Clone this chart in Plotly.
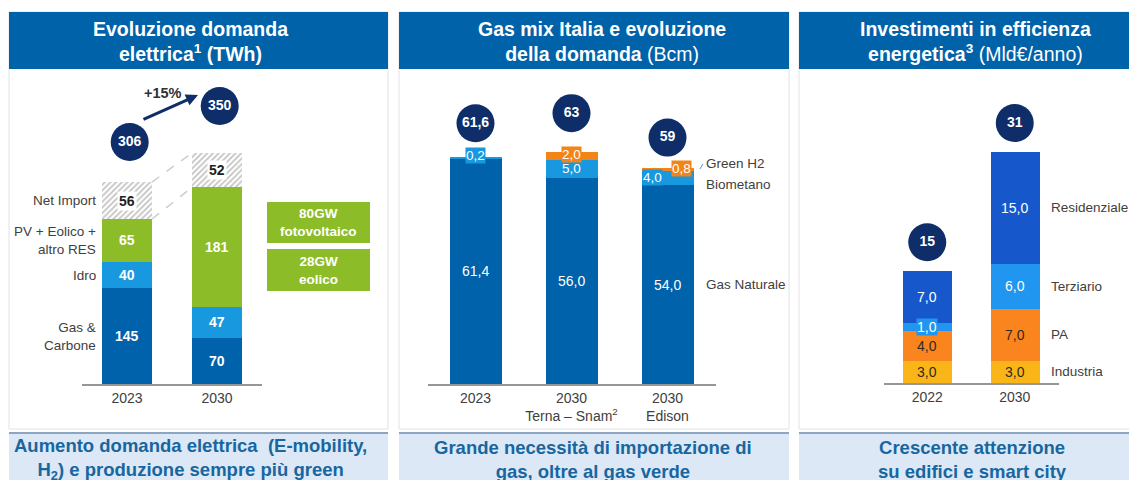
import plotly.graph_objects as go
import numpy as np

# The page body has an 8px margin; the figure is sized so it fills the window.
OX, OY = 8, 8
W, H = 1137 - OX, 480 - OY
FONT = "Liberation Sans, Arial, sans-serif"

# ---------------- DATA ----------------
# Panel 1 - Evoluzione domanda elettrica (TWh)
p1_years = ["2023", "2030"]
p1_gas_carbone = [145, 70]
p1_idro = [40, 47]
p1_res = [65, 181]
p1_net_import = [56, 52]
p1_totals = [306, 350]
p1_growth = "+15%"
p1_segment_names = ["Gas &<br>Carbone", "Idro", "PV + Eolico +<br>altro RES", "Net Import"]
p1_capacity = ["80GW<br>fotovoltaico", "28GW<br>eolico"]

# Panel 2 - Gas mix Italia (Bcm)
p2_cats = ["2023", "2030<br>Terna – Snam<sup>2</sup>", "2030<br>Edison"]
p2_gas_naturale = [61.4, 56.0, 54.0]
p2_biometano = [0.2, 5.0, 4.0]
p2_green_h2 = [0.0, 2.0, 0.8]
p2_totals = ["61,6", "63", "59"]
p2_names = ["Gas Naturale", "Biometano", "Green H2"]

# Panel 3 - Investimenti in efficienza energetica (Mld€/anno)
p3_years = ["2022", "2030"]
p3_industria = [3.0, 3.0]
p3_pa = [4.0, 7.0]
p3_terziario = [1.0, 6.0]
p3_residenziale = [7.0, 15.0]
p3_totals = [15, 31]
p3_names = ["Industria", "PA", "Terziario", "Residenziale"]

headers = [
    "<b>Evoluzione domanda<br>elettrica<sup>1</sup> (TWh)</b>",
    "<b>Gas mix Italia e evoluzione<br>della domanda</b> (Bcm)",
    "<b>Investimenti in efficienza<br>energetica<sup>3</sup></b> (Mld€/anno)",
]
footers = [
    "<b>Aumento domanda elettrica  (E-mobility,<br>H<sub>2</sub>) e produzione sempre più green</b>",
    "<b>Grande necessità di importazione di<br>gas, oltre al gas verde</b>",
    "<b>Crescente attenzione<br>su edifici e smart city</b>",
]

# ---------------- STYLE ----------------
DARK_BLUE = "rgb(0,98,170)"
LIGHT_BLUE = "rgb(24,152,222)"
GREEN = "rgb(140,188,40)"
NAVY = "rgb(14,45,105)"
ORANGE = "rgb(242,132,24)"
ROYAL = "rgb(22,88,204)"
SKY = "rgb(32,150,240)"
PA_ORANGE = "rgb(250,132,30)"
AMBER = "rgb(250,182,24)"
HEADER = "rgb(0,98,168)"
FOOT_BG = "rgb(220,232,246)"
FOOT_TXT = "rgb(24,102,160)"
GREY_TXT = "rgb(64,64,64)"


def px_x(x):
    return (x - OX) / W


def px_y(y):
    return 1 - (y - OY) / H


# panel left, right, header text centre, footer text centre (px)
panels = [(9, 388, 190, 190), (399, 789, 602, 593), (799, 1150, 975, 972)]

# scales (px per unit) and baselines
S1, S2, S3 = 0.66, 3.68, 7.45
TOP = 75
B1, B2, B3 = 384, 384, 383
BW1, BW2, BW3 = 0.556, 0.55, 0.56

fig = go.Figure()

# ---------- Panel 1 bars ----------
x1 = list(range(len(p1_years)))
p1_series = [p1_gas_carbone, p1_idro, p1_res, p1_net_import]
p1_colors = [DARK_BLUE, LIGHT_BLUE, GREEN, "white"]
for i, (vals, col) in enumerate(zip(p1_series, p1_colors)):
    kw = {}
    if i == 3:
        kw["marker_pattern"] = dict(shape="/", fgcolor="rgb(135,135,135)", bgcolor="white",
                                    size=4, solidity=0.45)
    fig.add_trace(go.Bar(x=x1, y=vals, width=BW1, marker_color=col, marker_line_width=0,
                         xaxis="x", yaxis="y", hoverinfo="skip", **kw))

# ---------- Panel 2 bars ----------
x2 = list(range(len(p2_cats)))
p2_series = [p2_gas_naturale, p2_biometano, p2_green_h2]
p2_colors = [DARK_BLUE, LIGHT_BLUE, ORANGE]
for vals, col in zip(p2_series, p2_colors):
    fig.add_trace(go.Bar(x=x2, y=vals, width=BW2, marker_color=col, marker_line_width=0,
                         xaxis="x2", yaxis="y2", hoverinfo="skip"))

# ---------- Panel 3 bars ----------
x3 = list(range(len(p3_years)))
p3_series = [p3_industria, p3_pa, p3_terziario, p3_residenziale]
p3_colors = [AMBER, PA_ORANGE, SKY, ROYAL]
for vals, col in zip(p3_series, p3_colors):
    fig.add_trace(go.Bar(x=x3, y=vals, width=BW3, marker_color=col, marker_line_width=0,
                         xaxis="x3", yaxis="y3", hoverinfo="skip"))


# ---------- Bubbles ----------
def bubbles(xs, tops, labels, gaps, scale, xa, ya):
    ys = [t + g / scale for t, g in zip(tops, gaps)]
    fig.add_trace(go.Scatter(x=xs, y=ys, mode="markers+text", text=labels,
                             textposition="middle center",
                             textfont=dict(color="white", size=14, family=FONT, weight="bold"),
                             marker=dict(size=38, color=NAVY, line_width=0),
                             cliponaxis=False, xaxis=xa, yaxis=ya, hoverinfo="skip"))


p1_tops = list(np.sum(p1_series, axis=0))
p2_tops = list(np.sum(p2_series, axis=0))
p3_tops = list(np.sum(p3_series, axis=0))
bubbles([x + 0.03 for x in x1], p1_tops, [str(t) for t in p1_totals], [40, 47], S1, "x", "y")
bubbles(x2, p2_tops, p2_totals, [34, 39, 30], S2, "x2", "y2")
bubbles(x3, p3_tops, [str(t) for t in p3_totals], [29, 29], S3, "x3", "y3")

shapes = []
annotations = []


def pann(x, y, text, size, color, **kw):
    d = dict(xref="paper", yref="paper", x=px_x(x), y=px_y(y), text=text, showarrow=False,
             xanchor="center", yanchor="middle", font=dict(color=color, size=size, family=FONT))
    d.update(kw)
    annotations.append(d)


# ---------- Panel frames ----------
for (xa, xb, hcx, fcx), htxt, ftxt in zip(panels, headers, footers):
    shapes.append(dict(type="rect", xref="paper", yref="paper", x0=px_x(xa), x1=px_x(xb),
                       y0=px_y(429), y1=px_y(12), fillcolor="white",
                       line=dict(color="rgb(226,226,226)", width=1), layer="below"))
    shapes.append(dict(type="rect", xref="paper", yref="paper", x0=px_x(xa), x1=px_x(xb),
                       y0=px_y(69), y1=px_y(12), fillcolor=HEADER, line_width=0, layer="below"))
    shapes.append(dict(type="rect", xref="paper", yref="paper", x0=px_x(xa), x1=px_x(xb),
                       y0=px_y(490), y1=px_y(432), fillcolor=FOOT_BG, line_width=0, layer="below"))
    shapes.append(dict(type="line", xref="paper", yref="paper", x0=px_x(xa), x1=px_x(xb),
                       y0=px_y(433), y1=px_y(433), line=dict(color="rgb(140,165,192)", width=2),
                       layer="below"))
    pann(hcx, 41, htxt, 19.5, "white")
    pann(fcx, 459, ftxt, 18.5, FOOT_TXT)

# ---------- Panel 1 labels ----------
base = np.zeros(len(x1))
for i, vals in enumerate(p1_series):
    for j, v in enumerate(vals):
        mid = base[j] + v / 2
        if i == 3:
            annotations.append(dict(x=x1[j], y=mid, xref="x", yref="y", text=f"<b>{v}</b>",
                                    showarrow=False, bgcolor="white", borderpad=1,
                                    font=dict(color="rgb(30,30,30)", size=14, family=FONT)))
        else:
            annotations.append(dict(x=x1[j], y=mid, xref="x", yref="y", text=f"<b>{v}</b>",
                                    showarrow=False,
                                    font=dict(color="white", size=14, family=FONT)))
    # left side names for 2023
    annotations.append(dict(x=x1[0] - BW1 / 2, y=base[0] + vals[0] / 2, xref="x", yref="y",
                            text=p1_segment_names[i], showarrow=False, xanchor="right",
                            xshift=-4, align="right",
                            font=dict(color=GREY_TXT, size=13.5, family=FONT)))
    base = base + np.array(vals)

# dashed connectors between bars (top of RES and top of total)
cum = np.cumsum(np.array(p1_series), axis=0)
for lvl in (2, 3):
    shapes.append(dict(type="line", xref="x", yref="y", x0=x1[0] + BW1 / 2, x1=x1[1] - BW1 / 2,
                       y0=cum[lvl][0], y1=cum[lvl][1],
                       line=dict(color="rgb(205,205,205)", width=1.5, dash="dash")))

# growth arrow and label
annotations.append(dict(xref="paper", yref="paper", x=px_x(198), y=px_y(95), ax=-56, ay=25,
                        text="", showarrow=True, arrowhead=2, arrowsize=0.8, arrowwidth=3,
                        arrowcolor=NAVY))
pann(163, 93, f"<b>{p1_growth}</b>", 14.5, "rgb(50,50,50)")

# capacity boxes
for txt, (ya, yb) in zip(p1_capacity, [(202, 243), (249, 291)]):
    shapes.append(dict(type="rect", xref="paper", yref="paper", x0=px_x(267), x1=px_x(370),
                       y0=px_y(yb), y1=px_y(ya), fillcolor=GREEN, line_width=0))
    pann(318.5, (ya + yb) / 2, f"<b>{txt}</b>", 13.5, "white")


# ---------- Panel 2 labels ----------
def fmt(v):
    return f"{v:.1f}".replace(".", ",")


base = np.zeros(len(x2))
for i, vals in enumerate(p2_series):
    for j, v in enumerate(vals):
        if v <= 0:
            continue
        mid = base[j] + v / 2
        a = dict(x=x2[j], y=mid, xref="x2", yref="y2", text=fmt(v), showarrow=False,
                 font=dict(color="white", size=14 if i == 0 else 13.5, family=FONT))
        if i == 1:
            a["bgcolor"] = LIGHT_BLUE
            a["borderpad"] = 0
            if v < 1:
                a["y"] = base[j] + v
                a["yshift"] = 2
            if j == 2:
                a["xshift"] = -15
        if i == 2:
            a["bgcolor"] = ORANGE
            a["borderpad"] = 0
            a["yshift"] = 1
            if j == 2:
                a["xshift"] = 14
        annotations.append(a)
    base = base + np.array(vals)

cum2 = np.cumsum(np.array(p2_series), axis=0)
last = x2[-1]
p2_label_y = [cum2[0][last] / 2,
              cum2[0][last] + p2_biometano[last] / 2,
              cum2[1][last] + p2_green_h2[last] / 2]
p2_label_shift = [0, -7, 6]
for name, yv, ys in zip(p2_names, p2_label_y, p2_label_shift):
    annotations.append(dict(x=last + BW2 / 2, y=yv, xref="x2", yref="y2", text=name,
                            showarrow=False, xanchor="left", xshift=10, yshift=ys,
                            font=dict(color=GREY_TXT, size=13.5, family=FONT)))
shapes.append(dict(type="line", xref="x2", yref="y2",
                   x0=last + BW2 / 2 + 6 / 96, x1=last + BW2 / 2 + 9 / 96,
                   y0=p2_label_y[2], y1=p2_label_y[2] + 5 / S2,
                   line=dict(color="rgb(90,140,190)", width=1)))

# ---------- Panel 3 labels ----------
p3_txt_colors = ["rgb(50,40,30)", "rgb(50,40,30)", "white", "white"]
base = np.zeros(len(x3))
for i, vals in enumerate(p3_series):
    for j, v in enumerate(vals):
        a = dict(x=x3[j], y=base[j] + v / 2, xref="x3", yref="y3", text=fmt(v),
                 showarrow=False, font=dict(color=p3_txt_colors[i], size=14, family=FONT))
        if i == 2:
            a["bgcolor"] = SKY
            a["borderpad"] = 0
        annotations.append(a)
    annotations.append(dict(x=x3[-1] + BW3 / 2, y=base[-1] + vals[-1] / 2, xref="x3", yref="y3",
                            text=p3_names[i], showarrow=False, xanchor="left", xshift=10,
                            font=dict(color=GREY_TXT, size=13.5, family=FONT)))
    base = base + np.array(vals)


# ---------- Axes ----------
def xax(domain, n, labels, anchor):
    return dict(domain=domain, range=[-0.5, n - 0.5], tickvals=list(range(n)), ticktext=labels,
                showgrid=False, zeroline=False, showline=True, linecolor="rgb(150,150,150)",
                linewidth=1.5, ticks="", tickfont=dict(size=14, color=GREY_TXT, family=FONT),
                anchor=anchor, fixedrange=True)


def yax(domain, rng, anchor):
    return dict(domain=domain, range=rng, visible=False, showgrid=False, zeroline=False,
                anchor=anchor, fixedrange=True)


fig.update_layout(
    width=W, height=H, margin=dict(l=0, r=0, t=0, b=0),
    paper_bgcolor="white", plot_bgcolor="rgba(0,0,0,0)",
    barmode="stack", showlegend=False, bargap=0,
    font=dict(family=FONT),
    xaxis=xax([px_x(82), px_x(262)], len(x1), p1_years, "y"),
    yaxis=yax([px_y(B1), px_y(TOP)], [0, (B1 - TOP) / S1], "x"),
    xaxis2=xax([px_x(427.5), px_x(715.5)], len(x2), p2_cats, "y2"),
    yaxis2=yax([px_y(B2), px_y(TOP)], [0, (B2 - TOP) / S2], "x2"),
    xaxis3=xax([px_x(883.5), px_x(1058.5)], len(x3), p3_years, "y3"),
    yaxis3=yax([px_y(B3), px_y(TOP)], [0, (B3 - TOP) / S3], "x3"),
    shapes=shapes, annotations=annotations,
)

fig.write_html("out.html")
